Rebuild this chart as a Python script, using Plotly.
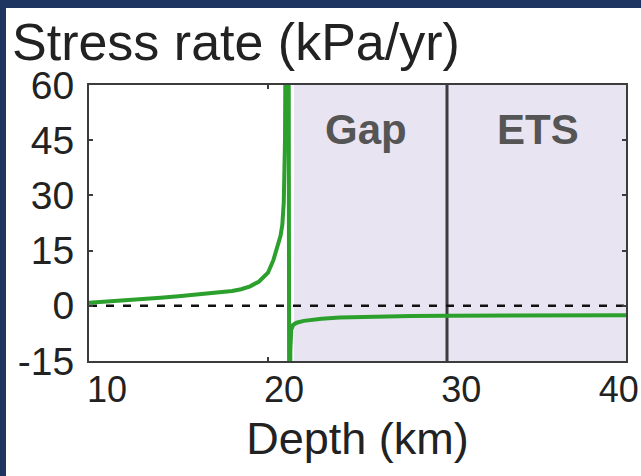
import plotly.graph_objects as go

# ---- data ----
depth_left = [10, 11, 12, 13, 14, 15, 16, 17, 18, 18.5, 19, 19.5, 20, 20.3, 20.5, 20.7, 20.8, 20.88, 20.95, 21.0, 21.15]
stress_left = [0.8, 1.1, 1.4, 1.8, 2.2, 2.6, 3.0, 3.5, 4.0, 4.5, 5.3, 6.6, 9.0, 12.4, 15.5, 19, 22, 28, 45, 90, 90]
depth_right = [21.2, 21.25, 21.3, 21.4, 21.6, 22, 23, 24, 26, 28, 30, 33, 36, 40]
stress_right = [-90, -12, -6.5, -5.2, -4.6, -4.1, -3.5, -3.2, -2.9, -2.8, -2.7, -2.6, -2.6, -2.6]

depth = depth_left + depth_right
stress = stress_left + stress_right

NB = "\u00a0"
x_ticks = [10, 20, 30, 40]
x_ticklabels = ["10", "20", "30", "40"]
y_ticks = [60, 45, 30, 15, 0, -15]
y_ticklabels = ["60", "45", "30", "15", "0", "-15"]

gap_start, gap_end = 21.45, 40
ets_boundary = 30
zone_labels = ["Gap", "ETS"]
zone_label_x = [25.5, 35.1]
zone_label_y = [47.8, 47.8]

x_range = [10, 40]
y_range = [-15, 60]

NAVY = "#1e3562"
GREEN = "#2ca02c"
AXIS = "#3c3c3c"
FONT = "Liberation Sans, Arial, sans-serif"

# tick-label placement offsets (in km) to mimic the original's label positions
label_offset = [1.0, 0.9, 0.8, -0.4]
x_label_pos = [t + o for t, o in zip(x_ticks, label_offset)]

fig = go.Figure()
fig.add_trace(go.Scatter(x=depth, y=stress, mode="lines",
                         line=dict(color=GREEN, width=4), showlegend=False,
                         hoverinfo="skip"))
# invisible trace attaching the label-only overlay axis
fig.add_trace(go.Scatter(x=[x_range[0]], y=[y_range[0]], xaxis="x2", mode="markers",
                         marker=dict(opacity=0), showlegend=False, hoverinfo="skip"))

shapes = [
    dict(type="rect", xref="paper", yref="paper", ysizemode="pixel", yanchor=1,
         x0=-1, x1=2, y0=77, y1=100, fillcolor=NAVY, line_width=0, layer="above"),
    dict(type="rect", xref="paper", yref="paper", xsizemode="pixel", xanchor=0,
         x0=-100, x1=-83, y0=-2, y1=3, fillcolor=NAVY, line_width=0, layer="above"),
    dict(type="rect", xref="x", yref="paper", x0=gap_start, x1=gap_end, y0=0, y1=1,
         fillcolor="#e9e4f1", line_width=0, layer="below"),
    dict(type="line", xref="x", yref="paper", x0=ets_boundary, x1=ets_boundary, y0=0, y1=1,
         line=dict(color=AXIS, width=3), layer="below"),
    dict(type="line", xref="paper", yref="y", x0=0, x1=1, y0=0, y1=0,
         line=dict(color="#111111", width=2.5, dash="8px,9px"), layer="below"),
]

annotations = [
    dict(x=zx, y=zy, xref="x", yref="y", text=t, showarrow=False,
         font=dict(family=FONT, size=42, color="#555555", weight="bold"),
         xanchor="center", yanchor="middle")
    for t, zx, zy in zip(zone_labels, zone_label_x, zone_label_y)
]

fig.update_layout(
    width=641, height=476,
    margin=dict(l=89, r=15, t=85, b=115),
    paper_bgcolor="white", plot_bgcolor="white",
    shapes=shapes, annotations=annotations,
    font=dict(family=FONT, color="#222222"),
    title=dict(text="Stress rate (kPa/yr)", x=12 / 641, xanchor="left", xref="container",
               y=1 - 42 / 476, yanchor="middle", yref="container",
               font=dict(family=FONT, size=52, color="#222222")),
    xaxis=dict(range=x_range, tickvals=x_ticks, showticklabels=False,
               showgrid=False, zeroline=False, showline=True, mirror="ticks",
               linecolor=AXIS, linewidth=2, ticks="inside", ticklen=4, tickwidth=1.5,
               tickcolor=AXIS, automargin=False,
               title=dict(text=NB * 3 + "Depth (km)", font=dict(size=45, color="#222222"),
                          standoff=60)),
    xaxis2=dict(range=x_range, overlaying="x", anchor="y", side="bottom",
                tickvals=x_label_pos, ticktext=x_ticklabels, ticks="",
                showgrid=False, zeroline=False, showline=False, automargin=False,
                tickfont=dict(size=36, color="#222222"), ticklabelstandoff=4),
    yaxis=dict(range=y_range, tickvals=y_ticks, ticktext=y_ticklabels,
               showgrid=False, zeroline=False, showline=True, mirror="ticks",
               linecolor=AXIS, linewidth=2, ticks="inside", ticklen=4, tickwidth=1.5,
               tickcolor=AXIS, tickfont=dict(size=39, color="#222222"),
               ticklabelstandoff=5, automargin=False),
)

fig.write_html("out.html")
